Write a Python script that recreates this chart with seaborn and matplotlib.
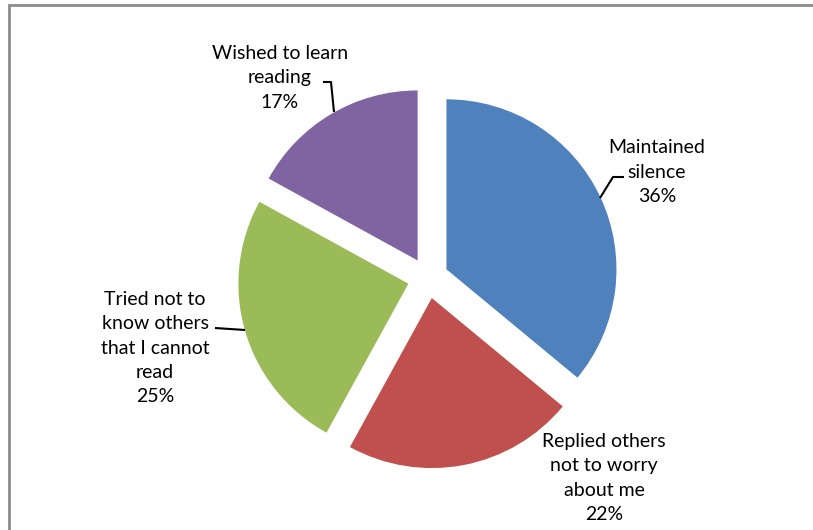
"""
Pie chart: reactions to not being able to read.
"""
import matplotlib
matplotlib.use('Agg')
import matplotlib.pyplot as plt
import matplotlib.patches as mpatches
import seaborn as sns

# data
categories = ["Maintained\nsilence", "Replied others\nnot to worry\nabout me",
              "Tried not to\nknow others\nthat I cannot\nread", "Wished to learn\nreading"]
shares = [36, 22, 25, 17]
colors = ["#4F81BD", "#C0504D", "#9BBB59", "#8064A2"]

sns.set_theme(style="white")
plt.rcParams['font.family'] = ['Lato', 'DejaVu Sans']

W, H = 813, 530
CX, CY, R = 428, 278, 170  # pie centre / radius in pixels


def px(x, y):
    """pixel (from top-left) -> data coords"""
    return (x - CX) / R, (CY - y) / R


fig = plt.figure(figsize=(W / 100, H / 100), dpi=100)
ax = fig.add_axes([0, 0, 1, 1])

ax.pie(shares, colors=sns.color_palette(colors), startangle=90, counterclock=False,
       explode=[0.12] * len(shares), radius=1.0,
       wedgeprops=dict(linewidth=0))

ax.set_xlim(-CX / R, (W - CX) / R)
ax.set_ylim(-(H - CY) / R, CY / R)
ax.set_aspect('auto')
ax.axis('off')

# label placement (pixel centres) and leader lines
label_pos = [(657, 172), (604, 478), (155, 348), (280, 78)]
leaders = [
    [(600, 198), (613, 177), (624, 177)],
    None,
    [(215, 328), (245, 330)],
    [(323, 82), (331, 82), (334, 112)],
]

for cat, val, pos, line in zip(categories, shares, label_pos, leaders):
    x, y = px(*pos)
    ax.text(x, y, f"{cat}\n{val}%", ha='center', va='center', fontsize=14,
            linespacing=1.52, color='black')
    if line:
        xs, ys = zip(*[px(*p) for p in line])
        ax.plot(xs, ys, color='black', linewidth=1.5, solid_capstyle='butt')

# chart border (runs off right / bottom edge)
fig.patches.append(mpatches.Rectangle((8.5 / W, -0.1), 1.2, 1 - 4.5 / H + 0.1,
                                      transform=fig.transFigure, fill=False,
                                      edgecolor='#8C8C8C', linewidth=2))

plt.savefig("out.png", dpi=100)
plt.close()
